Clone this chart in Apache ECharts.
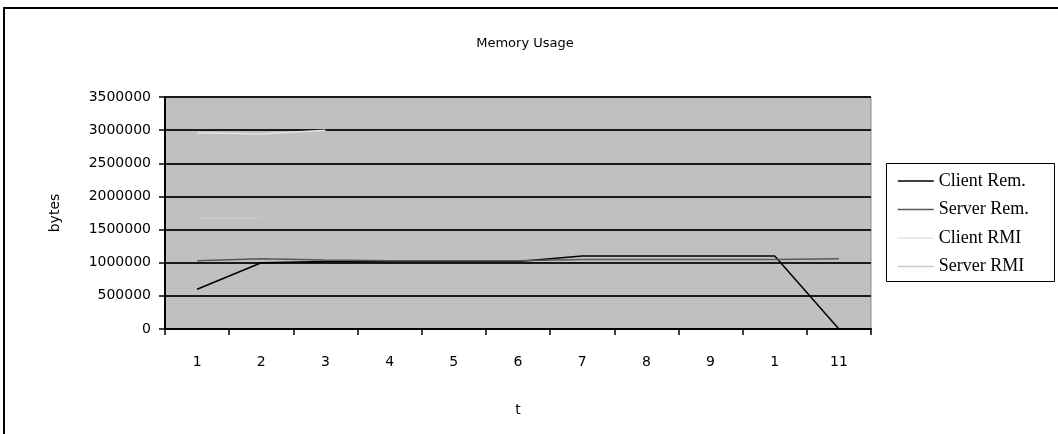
<!DOCTYPE html>
<html>
<head>
<meta charset="utf-8">
<title>Memory Usage</title>
<script src="https://cdn.jsdelivr.net/npm/echarts@6/dist/echarts.min.js"></script>
<style>
  html, body { margin: 0; padding: 0; background: #fff; }
  #chart { width: 1058px; height: 434px; }
</style>
</head>
<body>
<div id="chart"></div>
<script>
// Time steps and the labels printed under them
const categories = ['1', '2', '3', '4', '5', '6', '7', '8', '9', '10', '11'];
const tickLabels = ['1', '2', '3', '4', '5', '6', '7', '8', '9', '1', '11'];

// Memory usage in bytes per time step (null = not measured)
const clientRem = [600000, 1000000, 1020000, 1020000, 1020000, 1020000, 1100000, 1100000, 1100000, 1100000, 0];
const serverRem = [1030000, 1060000, 1040000, 1030000, 1030000, 1030000, 1050000, 1050000, 1050000, 1050000, 1060000];
const clientRMI = [2960000, 2940000, 3000000, null, null, null, null, null, null, null, null];
const serverRMI = [1680000, 1680000, null, null, null, null, null, null, null, null, null];

const yTicks = { min: 0, max: 3500000, interval: 500000 };

const chart = echarts.init(document.getElementById('chart'), null, { renderer: 'canvas' });

const axisFont = { fontFamily: 'DejaVu Sans', fontSize: 14, color: '#000' };

function lineSeries(name, data, color) {
  return {
    name: name,
    type: 'line',
    data: data,
    symbol: 'none',
    connectNulls: false,
    animation: false,
    lineStyle: { color: color, width: 1.5 },
    itemStyle: { color: color }
  };
}

chart.setOption({
  backgroundColor: '#fff',
  animation: false,
  title: {
    text: 'Memory Usage',
    left: 520,
    top: 32,
    textAlign: 'center',
    textStyle: { fontFamily: 'DejaVu Sans', fontSize: 13, fontWeight: 'normal', color: '#000' }
  },
  graphic: [
    {
      type: 'rect',
      shape: { x: 4, y: 8, width: 1100, height: 500 },
      style: { fill: null, stroke: '#000', lineWidth: 2 },
      z: 0
    },
    {
      type: 'rect',
      shape: { x: 886.5, y: 163.5, width: 168, height: 118 },
      style: { fill: '#fff', stroke: '#000', lineWidth: 1 },
      z: 1
    }
  ],
  legend: {
    orient: 'vertical',
    left: 892,
    top: 167,
    itemWidth: 36,
    itemHeight: 14,
    itemGap: 10.5,
    z: 5,
    itemStyle: { opacity: 0 },
    lineStyle: { width: 1.5 },
    textStyle: { fontFamily: 'Liberation Serif', fontSize: 18, color: '#000' },
    data: ['Client Rem.', 'Server Rem.', 'Client RMI', 'Server RMI']
  },
  grid: {
    left: 165,
    right: 187,
    top: 97,
    bottom: 105,
    show: true,
    backgroundColor: '#c0c0c0',
    borderColor: '#8a8a8a',
    borderWidth: 1
  },
  xAxis: {
    type: 'category',
    data: categories,
    boundaryGap: true,
    name: 't',
    nameLocation: 'middle',
    nameGap: 74,
    nameTextStyle: { fontFamily: 'DejaVu Sans', fontSize: 14, color: '#000' },
    axisLine: { lineStyle: { color: '#000', width: 2 } },
    axisTick: { show: true, length: 6, alignWithLabel: false, lineStyle: { color: '#000', width: 1.5 } },
    axisLabel: Object.assign({
      margin: 26,
      interval: 0,
      formatter: function (value, index) { return tickLabels[index]; }
    }, axisFont),
    splitLine: { show: false }
  },
  yAxis: {
    type: 'value',
    min: yTicks.min,
    max: yTicks.max,
    interval: yTicks.interval,
    name: 'bytes',
    nameLocation: 'middle',
    nameGap: 103,
    nameRotate: 90,
    nameTextStyle: { fontFamily: 'DejaVu Sans', fontSize: 14, color: '#000' },
    axisLine: { show: true, lineStyle: { color: '#000', width: 2 } },
    axisTick: { show: true, length: 6, lineStyle: { color: '#000', width: 1.5 } },
    axisLabel: Object.assign({
      margin: 14,
      formatter: function (v) { return String(v); }
    }, axisFont),
    splitLine: { show: true, lineStyle: { color: '#1a1a1a', width: 2 } }
  },
  series: [
    lineSeries('Client Rem.', clientRem, '#000000'),
    lineSeries('Server Rem.', serverRem, '#5a5a5a'),
    lineSeries('Client RMI', clientRMI, '#e4e4e4'),
    lineSeries('Server RMI', serverRMI, '#c9c9c9')
  ]
});
</script>
</body>
</html>
